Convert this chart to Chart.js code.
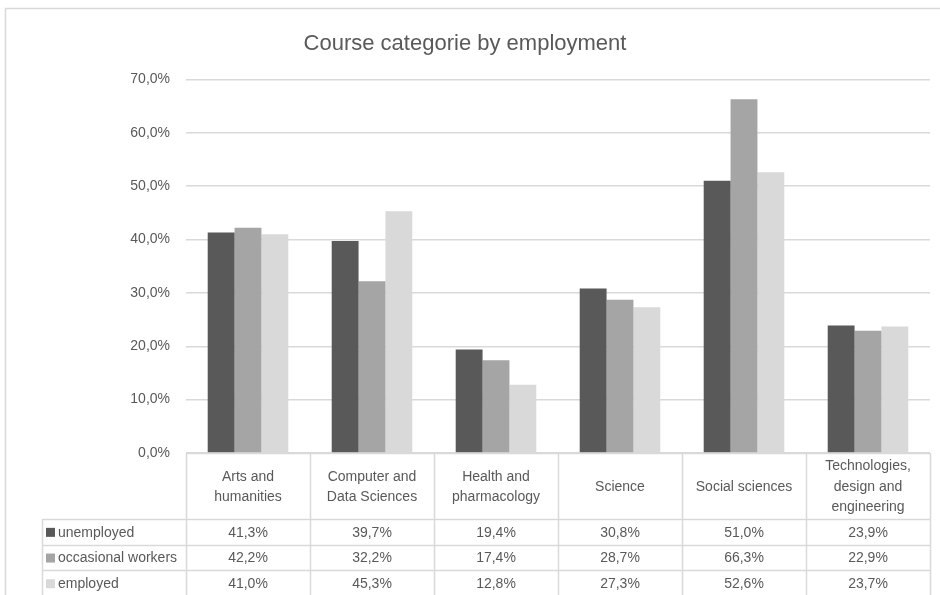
<!DOCTYPE html>
<html>
<head>
<meta charset="utf-8">
<script src="https://cdn.jsdelivr.net/npm/chart.js@4/dist/chart.umd.min.js"></script>
<style>
  html, body { margin: 0; padding: 0; background: #fff; }
  #wrap { width: 940px; height: 595px; position: relative; }
</style>
</head>
<body>
<div id="wrap"><canvas id="chart"></canvas></div>
<script>
const categories = [
  ['Arts and', 'humanities'],
  ['Computer and', 'Data Sciences'],
  ['Health and', 'pharmacology'],
  ['Science'],
  ['Social sciences'],
  ['Technologies,', 'design and', 'engineering']
];
const seriesNames = ['unemployed', 'occasional workers', 'employed'];
const unemployed = [41.3, 39.7, 19.4, 30.8, 51.0, 23.9];
const occasionalWorkers = [42.2, 32.2, 17.4, 28.7, 66.3, 22.9];
const employed = [41.0, 45.3, 12.8, 27.3, 52.6, 23.7];
const seriesColors = ['#595959', '#a5a5a5', '#d9d9d9'];

const FONT = '"Liberation Sans", Arial, sans-serif';
const TEXT = '#595959';
const LINE = '#d9d9d9';

const pct = v => v.toFixed(1).replace('.', ',') + '%';

// frame round the whole chart, like the Excel export
const framePlugin = {
  id: 'frame',
  beforeDraw(chart) {
    const ctx = chart.ctx;
    ctx.save();
    ctx.strokeStyle = LINE;
    ctx.lineWidth = 1.5;
    ctx.strokeRect(5.5, 8.5, chart.width + 20, chart.height + 20);
    ctx.restore();
  }
};

// data table under the plot, columns follow the x scale
const dataTablePlugin = {
  id: 'dataTable',
  afterDraw(chart) {
    const ctx = chart.ctx;
    const x = chart.scales.x;
    const area = chart.chartArea;
    const n = categories.length;
    const colW = (x.right - x.left) / n;
    const top = area.bottom;
    const headerH = 66;
    const rowH = 25.7;
    const legendLeft = 42;
    const bottom = top + headerH + rowH * seriesNames.length;

    ctx.save();
    ctx.strokeStyle = LINE;
    ctx.lineWidth = 1.5;

    // vertical lines
    for (let i = 0; i <= n; i++) {
      const px = Math.round(x.left + colW * i) + 0.5;
      ctx.beginPath();
      ctx.moveTo(px, top);
      ctx.lineTo(px, bottom + 2);
      ctx.stroke();
    }
    ctx.beginPath();
    ctx.moveTo(legendLeft + 0.5, top + headerH);
    ctx.lineTo(legendLeft + 0.5, bottom + 2);
    ctx.stroke();

    // horizontal lines
    ctx.beginPath();
    ctx.moveTo(x.left, Math.round(top) + 0.5);
    ctx.lineTo(x.right, Math.round(top) + 0.5);
    ctx.stroke();
    for (let r = 0; r <= seriesNames.length; r++) {
      const py = Math.round(top + headerH + rowH * r) + 0.5;
      ctx.beginPath();
      ctx.moveTo(legendLeft, py);
      ctx.lineTo(x.right, py);
      ctx.stroke();
    }

    ctx.fillStyle = TEXT;
    ctx.font = '14px ' + FONT;
    ctx.textAlign = 'center';
    ctx.textBaseline = 'middle';

    // header labels
    categories.forEach((lines, i) => {
      const cx = x.getPixelForValue(i);
      const lh = 20.5;
      const cy = top + headerH / 2 + 1;
      lines.forEach((t, k) => {
        ctx.fillText(t, cx, cy + (k - (lines.length - 1) / 2) * lh);
      });
    });

    // rows
    chart.data.datasets.forEach((ds, r) => {
      const cy = top + headerH + rowH * r + rowH / 2 + 1;
      ctx.textAlign = 'left';
      ctx.fillStyle = seriesColors[r];
      ctx.fillRect(legendLeft + 4, cy - 5, 9, 9);
      ctx.fillStyle = TEXT;
      ctx.fillText(ds.label, legendLeft + 16, cy);
      ctx.textAlign = 'center';
      ds.data.forEach((v, i) => {
        ctx.fillText(pct(v), x.getPixelForValue(i), cy);
      });
    });
    ctx.restore();
  }
};

const seriesValues = [unemployed, occasionalWorkers, employed];

new Chart(document.getElementById('chart'), {
  type: 'bar',
  data: {
    labels: categories,
    datasets: seriesNames.map((name, i) => ({
      label: name,
      data: seriesValues[i],
      backgroundColor: seriesColors[i],
      borderWidth: 0,
      categoryPercentage: 0.65,
      barPercentage: 1
    }))
  },
  options: {
    responsive: true,
    maintainAspectRatio: false,
    animation: false,
    layout: { padding: { left: 0, right: 10, top: 0, bottom: 134 } },
    plugins: {
      legend: { display: false },
      tooltip: { enabled: false },
      title: {
        display: true,
        text: 'Course categorie by employment',
        color: TEXT,
        font: { family: FONT, size: 22, weight: 'normal', lineHeight: 1.2 },
        padding: { top: 31, bottom: 22 }
      }
    },
    scales: {
      x: {
        grid: { display: false },
        border: { display: false },
        ticks: { display: false }
      },
      y: {
        min: 0,
        max: 70,
        afterFit(scale) { scale.width = 186; },
        border: { display: false },
        grid: { color: LINE, lineWidth: 1.5, drawTicks: false },
        ticks: {
          stepSize: 10,
          padding: 16,
          color: TEXT,
          font: { family: FONT, size: 14 },
          callback: v => pct(v)
        }
      }
    }
  },
  plugins: [framePlugin, dataTablePlugin]
});
</script>
</body>
</html>
